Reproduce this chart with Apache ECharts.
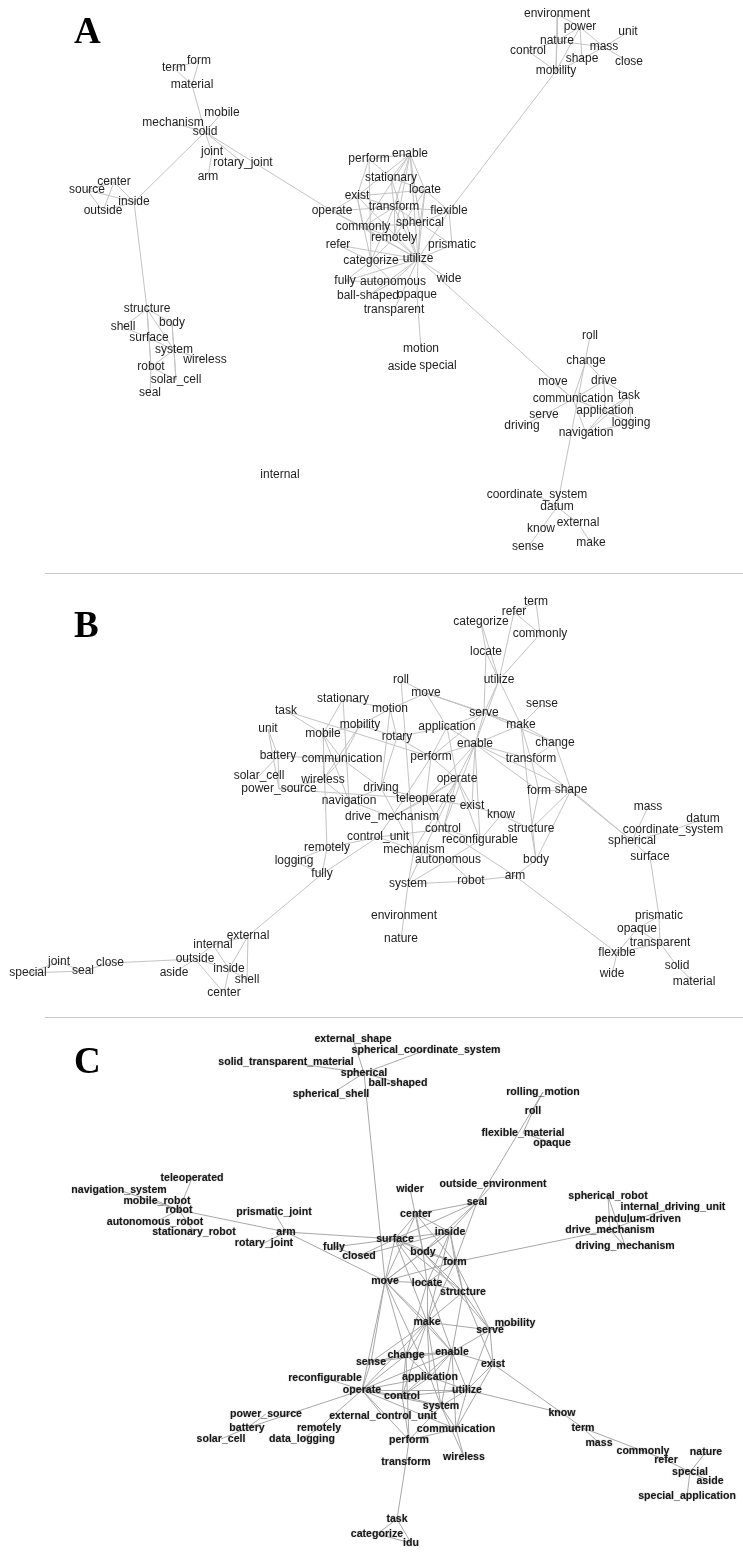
<!DOCTYPE html>
<html><head><meta charset="utf-8">
<script src="https://cdn.jsdelivr.net/npm/echarts@6/dist/echarts.min.js"></script>
<style>html,body{margin:0;padding:0;background:#fff}#c{width:743px;height:1553px}</style>
</head><body><div id="c"></div>
<script>
// ---- Panel A: nodes [word, layoutX, layoutY] ----
const nodesA = [
['term',174,68],['form',199,61],['material',192,85],['mobile',222,113],['mechanism',173,123],['solid',205,132],['joint',212,152],['rotary_joint',243,163],['arm',208,177],['center',114,182],['source',87,190],['inside',134,202],['outside',103,211],
['structure',147,309],['shell',123,327],['body',172,323],['surface',149,338],['system',174,350],['wireless',205,360],['robot',151,367],['solar_cell',176,380],['seal',150,393],
['environment',557,14],['power',580,27],['unit',628,32],['nature',557,41],['mass',604,47],['control',528,51],['shape',582,59],['close',629,62],['mobility',556,71],
['perform',369,159],['enable',410,154],['stationary',391,178],['exist',357,196],['locate',425,190],['operate',332,211],['transform',394,207],['flexible',449,211],['commonly',363,227],['spherical',420,223],['remotely',394,238],['refer',338,245],['prismatic',452,245],['categorize',371,261],['utilize',418,259],['fully',345,281],['autonomous',393,282],['wide',449,279],['ball-shaped',368,296],['opaque',417,295],['transparent',394,310],
['motion',421,349],['aside',402,367],['special',438,366],['internal',280,475],
['roll',590,336],['change',586,361],['move',553,382],['drive',604,381],['communication',573,399],['task',629,396],['serve',544,415],['application',605,411],['driving',522,426],['logging',631,423],['navigation',586,433],
['coordinate_system',537,495],['datum',557,507],['external',578,523],['know',541,529],['make',591,543],['sense',528,547]
];
const linksA = [
['term','material'],['form','material'],['term','form'],['material','solid'],['mobile','solid'],['mechanism','solid'],['solid','joint'],['joint','arm'],['solid','rotary_joint'],['solid','inside'],['solid','operate'],
['center','inside'],['source','center'],['source','outside'],['center','outside'],['source','inside'],['outside','inside'],['inside','structure'],
['structure','shell'],['structure','body'],['structure','surface'],['structure','system'],['structure','robot'],['shell','surface'],['body','system'],['body','solar_cell'],['surface','system'],['surface','robot'],['system','wireless'],['system','robot'],['system','solar_cell'],['robot','seal'],['robot','solar_cell'],
['environment','nature'],['environment','mobility'],['environment','power'],['power','nature'],['power','shape'],['power','mass'],['power','mobility'],['nature','mass'],['nature','control'],['control','mobility'],['shape','mobility'],['mass','close'],['mass','unit'],['shape','mass'],['nature','mobility'],
['mobility','flexible'],
['perform','stationary'],['perform','exist'],['perform','categorize'],['perform','enable'],['enable','exist'],['enable','locate'],['enable','transform'],['enable','utilize'],['enable','remotely'],['enable','commonly'],['enable','stationary'],['enable','spherical'],
['stationary','locate'],['stationary','transform'],['stationary','utilize'],['exist','locate'],['exist','transform'],['exist','commonly'],['exist','utilize'],['exist','operate'],['exist','categorize'],
['locate','flexible'],['locate','utilize'],['locate','spherical'],['locate','remotely'],['transform','flexible'],['transform','utilize'],['transform','commonly'],['transform','spherical'],['transform','remotely'],['transform','categorize'],
['spherical','utilize'],['spherical','flexible'],['spherical','commonly'],['commonly','utilize'],['commonly','remotely'],['remotely','utilize'],['remotely','categorize'],['refer','utilize'],['refer','categorize'],['categorize','utilize'],
['fully','categorize'],['fully','utilize'],['autonomous','utilize'],['autonomous','categorize'],['wide','utilize'],['ball-shaped','utilize'],['opaque','utilize'],['transparent','utilize'],['prismatic','utilize'],['flexible','utilize'],['flexible','prismatic'],
['operate','commonly'],['operate','utilize'],['operate','transform'],['opaque','motion'],['utilize','communication'],['fully','autonomous'],['spherical','prismatic'],['ball-shaped','autonomous'],
['roll','datum'],['change','drive'],['change','communication'],['move','communication'],['drive','communication'],['drive','task'],['drive','application'],['communication','application'],['communication','serve'],['communication','navigation'],['serve','driving'],['task','application'],['task','logging'],['task','navigation'],['application','logging'],['application','navigation'],['logging','navigation'],
['coordinate_system','datum'],['datum','know'],['datum','external'],['know','sense'],['external','make']
];

// ---- Panel B ----
const nodesB = [
['term',536,602],['refer',514,612],['categorize',481,622],['commonly',540,634],['locate',486,652],['utilize',499,680],['sense',542,704],['serve',484,713],['make',521,725],['application',447,727],['enable',475,744],['change',555,743],['transform',531,759],['form',539,791],['shape',571,790],['exist',472,806],['know',501,815],['mass',648,807],['datum',703,819],['structure',531,829],['coordinate_system',673,830],['reconfigurable',480,840],['spherical',632,841],['surface',650,857],['body',536,860],['autonomous',448,860],['robot',471,881],['arm',515,876],
['prismatic',659,916],['opaque',637,929],['transparent',660,943],['flexible',617,953],['solid',677,966],['wide',612,974],['material',694,982],
['roll',401,680],['move',426,693],['stationary',343,699],['motion',390,709],['task',286,711],['unit',268,729],['mobility',360,725],['mobile',323,734],['rotary',397,737],['battery',278,756],['communication',342,759],['perform',431,757],['solar_cell',259,776],['wireless',323,780],['operate',457,779],['power_source',279,789],['driving',381,788],['navigation',349,801],['teleoperate',426,799],['drive_mechanism',392,817],['control',443,829],['control_unit',378,837],['remotely',327,848],['mechanism',414,850],['logging',294,861],['fully',322,874],
['system',408,884],['environment',404,916],['nature',401,939],['external',248,936],['internal',213,945],['outside',195,959],['joint',59,962],['close',110,963],['special',28,973],['seal',83,971],['aside',174,973],['inside',229,969],['shell',247,980],['center',224,993]
];
const linksB = [
['term','refer'],['term','commonly'],['refer','commonly'],['refer','utilize'],['commonly','utilize'],['categorize','locate'],['categorize','utilize'],['locate','utilize'],['locate','serve'],['utilize','serve'],['utilize','enable'],['utilize','make'],
['serve','make'],['serve','enable'],['serve','application'],['serve','move'],['serve','change'],['make','sense'],['make','change'],['make','transform'],['make','enable'],['make','body'],['make','move'],
['enable','transform'],['enable','application'],['enable','perform'],['enable','operate'],['enable','teleoperate'],['enable','exist'],['enable','control'],['enable','reconfigurable'],['enable','form'],['enable','shape'],
['change','shape'],['change','transform'],['transform','form'],['transform','spherical'],['form','structure'],['form','shape'],['shape','structure'],['shape','body'],['shape','spherical'],['structure','body'],['body','arm'],['know','structure'],['exist','know'],['exist','operate'],['exist','teleoperate'],['know','reconfigurable'],
['mass','spherical'],['datum','coordinate_system'],['coordinate_system','spherical'],['spherical','surface'],['surface','prismatic'],['prismatic','opaque'],['prismatic','transparent'],['opaque','transparent'],['opaque','flexible'],['transparent','flexible'],['transparent','solid'],['solid','material'],['flexible','wide'],['arm','flexible'],
['roll','move'],['roll','mechanism'],['move','motion'],['move','make'],['move','application'],['stationary','motion'],['stationary','mobile'],['stationary','navigation'],['task','perform'],['task','mobile'],['unit','battery'],['unit','power_source'],['battery','solar_cell'],['battery','power_source'],['battery','communication'],
['mobility','mobile'],['mobility','motion'],['mobility','communication'],['mobility','rotary'],['mobility','wireless'],['mobile','communication'],['mobile','wireless'],['mobile','navigation'],['mobile','remotely'],['rotary','application'],['rotary','motion'],['rotary','perform'],['rotary','driving'],
['application','operate'],['application','perform'],['communication','wireless'],['communication','driving'],['wireless','navigation'],['wireless','power_source'],['power_source','teleoperate'],['navigation','driving'],['navigation','drive_mechanism'],['driving','teleoperate'],['driving','mechanism'],
['teleoperate','operate'],['teleoperate','drive_mechanism'],['teleoperate','control'],['teleoperate','perform'],['operate','control'],['operate','reconfigurable'],['operate','drive_mechanism'],['operate','perform'],['operate','mechanism'],['operate','system'],
['drive_mechanism','control_unit'],['control_unit','control'],['control_unit','mechanism'],['control_unit','remotely'],['control_unit','fully'],['mechanism','autonomous'],['mechanism','system'],['control','reconfigurable'],['control','arm'],['reconfigurable','autonomous'],['autonomous','robot'],['robot','arm'],['system','robot'],['system','autonomous'],
['remotely','logging'],['remotely','fully'],['logging','fully'],['system','environment'],['environment','nature'],['perform','serve'],['motion','driving'],['perform','drive_mechanism'],
['fully','external'],['external','internal'],['external','inside'],['external','shell'],['internal','outside'],['internal','inside'],['outside','inside'],['outside','aside'],['outside','close'],['close','seal'],['seal','joint'],['joint','special'],['seal','special'],['inside','shell'],['inside','center'],['outside','center']
];

// ---- Panel C ----
const nodesC = [
['external_shape',353,1039],['spherical_coordinate_system',426,1050],['solid_transparent_material',286,1062],['spherical',364,1073],['ball-shaped',398,1083],['spherical_shell',331,1094],
['rolling_motion',543,1092],['roll',533,1111],['flexible_material',523,1133],['opaque',552,1143],
['wider',410,1189],['outside_environment',493,1184],['seal',477,1202],['prismatic_joint',274,1212],['center',416,1214],['arm',286,1232],['inside',450,1232],['surface',395,1239],['rotary_joint',264,1243],['fully',334,1247],['closed',359,1256],['body',423,1252],['form',455,1262],
['teleoperated',192,1178],['navigation_system',119,1190],['mobile_robot',157,1201],['robot',179,1210],['autonomous_robot',155,1222],['stationary_robot',194,1232],
['spherical_robot',608,1196],['internal_driving_unit',673,1207],['pendulum-driven',638,1219],['drive_mechanism',610,1230],['driving_mechanism',625,1246],
['move',385,1281],['locate',427,1283],['structure',463,1292],['make',427,1322],['serve',490,1330],['mobility',515,1323],['change',406,1355],['enable',452,1352],['sense',371,1362],['exist',493,1364],['reconfigurable',325,1378],['application',430,1377],['operate',362,1390],['utilize',467,1390],['control',402,1396],['system',441,1406],
['power_source',266,1414],['external_control_unit',383,1416],['battery',247,1428],['remotely',319,1428],['communication',456,1429],['solar_cell',221,1439],['data_logging',302,1439],['perform',409,1440],['transform',406,1462],['wireless',464,1457],['task',397,1519],['categorize',377,1534],['idu',411,1543],
['know',562,1413],['term',583,1428],['mass',599,1443],['commonly',643,1451],['nature',706,1452],['refer',666,1460],['special',690,1472],['aside',710,1481],['special_application',687,1496]
];
const linksC = [
['external_shape','spherical'],['spherical_coordinate_system','spherical'],['solid_transparent_material','spherical'],['spherical','ball-shaped'],['spherical','spherical_shell'],['spherical','move'],
['rolling_motion','roll'],['roll','flexible_material'],['flexible_material','opaque'],['rolling_motion','seal'],
['outside_environment','seal'],['seal','inside'],['seal','surface'],['seal','body'],['seal','form'],['seal','center'],
['wider','body'],['center','surface'],['center','inside'],['center','body'],['center','form'],['center','move'],
['teleoperated','robot'],['navigation_system','robot'],['mobile_robot','robot'],['autonomous_robot','robot'],['stationary_robot','robot'],['robot','arm'],['prismatic_joint','arm'],['arm','rotary_joint'],['arm','surface'],['arm','move'],['fully','closed'],['fully','surface'],['closed','surface'],['closed','inside'],
['surface','inside'],['surface','body'],['surface','move'],['surface','locate'],['surface','make'],['surface','form'],['surface','structure'],['inside','body'],['inside','form'],['inside','move'],['inside','structure'],['inside','locate'],['inside','make'],
['body','form'],['body','locate'],['body','structure'],['body','move'],['body','serve'],['form','drive_mechanism'],['form','locate'],['form','structure'],['form','make'],['form','serve'],['form','move'],
['spherical_robot','driving_mechanism'],['spherical_robot','drive_mechanism'],['pendulum-driven','internal_driving_unit'],['drive_mechanism','driving_mechanism'],['pendulum-driven','drive_mechanism'],
['move','locate'],['move','make'],['move','sense'],['move','operate'],['move','change'],['move','application'],['move','enable'],['locate','structure'],['locate','make'],['locate','enable'],['locate','change'],
['structure','make'],['structure','serve'],['structure','enable'],['structure','exist'],['make','change'],['make','enable'],['make','application'],['make','operate'],['make','sense'],['make','serve'],['make','system'],['make','control'],
['serve','mobility'],['serve','exist'],['serve','enable'],['serve','utilize'],['change','enable'],['change','application'],['change','control'],['change','operate'],['change','perform'],
['enable','exist'],['enable','application'],['enable','utilize'],['enable','operate'],['enable','system'],['enable','communication'],['enable','control'],['enable','sense'],['exist','utilize'],['exist','know'],['exist','communication'],
['reconfigurable','operate'],['application','operate'],['application','utilize'],['application','system'],['application','control'],['operate','control'],['operate','utilize'],['operate','battery'],['operate','remotely'],['operate','perform'],['operate','communication'],['operate','system'],['operate','external_control_unit'],
['utilize','know'],['utilize','system'],['utilize','communication'],['utilize','control'],['control','system'],['control','perform'],['system','communication'],['system','perform'],['system','wireless'],['communication','perform'],['communication','wireless'],
['perform','transform'],['transform','task'],['task','categorize'],['categorize','idu'],['task','idu'],['power_source','battery'],['battery','solar_cell'],['remotely','data_logging'],['sense','operate'],['sense','change'],
['know','term'],['term','mass'],['term','commonly'],['commonly','refer'],['refer','special'],['special','nature'],['special','aside'],['special','special_application']
];

const panelLetters = ['A','B','C'];
const panelYRange = [[0,573],[573,1017],[1017,1553]];

const chart = echarts.init(document.getElementById('c'), null, {renderer:'canvas'});

function makeSeries(nodes, links, idx, bold){
  return {
    type:'graph', layout:'none', coordinateSystem:'cartesian2d',
    xAxisIndex: idx, yAxisIndex: idx, silent:true, animation:false,
    symbol:'circle', symbolSize:1,
    itemStyle:{color:'rgba(0,0,0,0)'},
    edgeSymbol:['none','none'],
    lineStyle:{color: bold ? '#a8a8a8' : '#c4c4c4', width:1, opacity:1, curveness:0},
    label:{show:true, position:'inside', formatter:'{b}',
      fontFamily:'Liberation Sans, Arial, sans-serif',
      fontSize: bold ? 10.6 : 12,
      fontWeight: bold ? 'bold' : 'normal',
      color: bold ? '#181818' : '#1e1e1e',
      textShadowColor: bold ? 'rgba(0,0,0,0.35)' : 'transparent',
      textShadowBlur: bold ? 1.5 : 0},
    emphasis:{disabled:true},
    data: nodes.map(n => ({name:n[0], value:[n[1], n[2]]})),
    links: links.map(l => ({source:l[0], target:l[1]}))
  };
}

const option = {
  backgroundColor:'#fff',
  animation:false,
  grid: panelYRange.map(r => ({left:0, width:743, top:r[0], height:r[1]-r[0], containLabel:false})),
  xAxis: panelYRange.map((r,i) => ({type:'value', gridIndex:i, min:0, max:743, show:false})),
  yAxis: panelYRange.map((r,i) => ({type:'value', gridIndex:i, min:r[0], max:r[1], inverse:true, show:false})),
  title: panelLetters.map((t,i) => ({text:t, left:69, top: [10,604,1040][i],
    textStyle:{fontFamily:'Liberation Serif, Times New Roman, serif', fontSize:37, fontWeight:'bold', color:'#000'}})),
  graphic: [
    {type:'line', shape:{x1:45,y1:573.5,x2:743,y2:573.5}, style:{stroke:'#c8c8c8', lineWidth:1}, silent:true},
    {type:'line', shape:{x1:45,y1:1017.5,x2:743,y2:1017.5}, style:{stroke:'#c8c8c8', lineWidth:1}, silent:true}
  ],
  series:[
    makeSeries(nodesA, linksA, 0, false),
    makeSeries(nodesB, linksB, 1, false),
    makeSeries(nodesC, linksC, 2, true)
  ]
};
chart.setOption(option);
</script></body></html>
